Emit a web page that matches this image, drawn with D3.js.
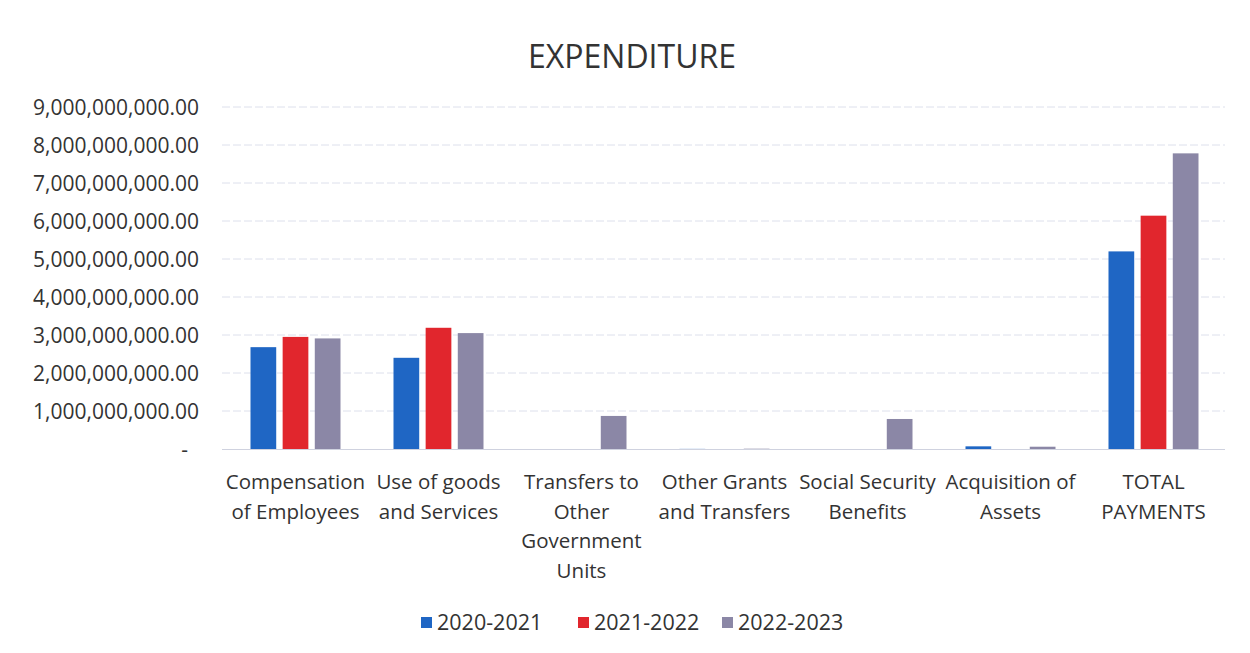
<!DOCTYPE html>
<html>
  <head>
    <style type="text/css">
      body { margin:0; background:#fff; }
      * { font-family:"Open Sans","Noto Sans",Arial,sans-serif; }
      .grid line { stroke:#dde0ec; stroke-width:1px; stroke-dasharray:8,3; }
      .tick text { fill:#333; }
    </style>
  </head>
  <body>
    <div id="chart"></div>
    <script src="https://d3js.org/d3.v7.min.js"></script>
    <script type="text/javascript">

    var categories = [
      ["Compensation", "of Employees"],
      ["Use of goods", "and Services"],
      ["Transfers to", "Other", "Government", "Units"],
      ["Other Grants", "and Transfers"],
      ["Social Security", "Benefits"],
      ["Acquisition of", "Assets"],
      ["TOTAL", "PAYMENTS"]
    ];
    var seriesNames = ["2020-2021", "2021-2022", "2022-2023"];
    var v2021 = [2680000000, 2400000000, 0, 3000000, 0, 70000000, 5200000000];
    var v2022 = [2950000000, 3190000000, 0, 0, 0, 0, 6140000000];
    var v2023 = [2910000000, 3050000000, 870000000, 8000000, 790000000, 60000000, 7780000000];
    var colors = ["#1f66c4", "#e1262d", "#8b87a6"];
    var yTicks = [0, 1e9, 2e9, 3e9, 4e9, 5e9, 6e9, 7e9, 8e9, 9e9];

    (function() {
      var width = 1250, height = 653;
      var left = 224, right = 1225, top = 107, bottom = 449;

      var svg = d3.select('#chart').append('svg')
                  .attr('width', width)
                  .attr('height', height);

      svg.append('text')
         .attr('x', 632).attr('y', 68)
         .attr('text-anchor', 'middle')
         .style('font-size', '32px')
         .style('fill', '#333')
         .text('EXPENDITURE');

      var y = d3.scaleLinear().domain([0, 9e9]).range([bottom, top]);
      var x = d3.scaleBand().domain(d3.range(categories.length)).range([left, right]);
      var x1 = d3.scaleBand().domain(d3.range(seriesNames.length))
                 .range([0, 90]).paddingInner(0.2);

      var fmt = d3.format(',.2f');

      // gridlines
      svg.append('g').attr('class', 'grid')
         .selectAll('line').data(yTicks.slice(1))
         .enter().append('line')
         .attr('x1', left - 2).attr('x2', right)
         .attr('y1', function (d) { return y(d); })
         .attr('y2', function (d) { return y(d); });

      svg.append('line')
         .attr('x1', left - 2).attr('x2', right)
         .attr('y1', bottom + 0.5).attr('y2', bottom + 0.5)
         .style('stroke', '#cfd2df');

      // y axis labels
      var yAxis = d3.axisLeft(y).tickValues(yTicks).tickSize(0).tickPadding(0)
                    .tickFormat(function (d) { return d === 0 ? '-' : fmt(d); });
      var ga = svg.append('g').attr('transform', 'translate(199,0)').call(yAxis);
      ga.select('.domain').remove();
      ga.selectAll('text').style('font-size', '21px').attr('dy', '0.35em');
      ga.selectAll('.tick').filter(function (d) { return d === 0; })
        .select('text').attr('dx', '-11');

      var data = [v2021, v2022, v2023];
      var groups = svg.append('g').selectAll('g')
          .data(categories.map(function (c, i) { return i; }))
          .enter().append('g')
          .attr('transform', function (i) { return 'translate(' + (x(i) + x.bandwidth() / 2 - 45) + ',0)'; });

      groups.selectAll('rect')
          .data(function (i) { return data.map(function (s, k) { return {k: k, v: s[i]}; }); })
          .enter().append('rect')
          .attr('x', function (d) { return x1(d.k); })
          .attr('width', x1.bandwidth())
          .attr('y', function (d) { return y(d.v); })
          .attr('height', function (d) { return bottom - y(d.v); })
          .style('fill', function (d) { return colors[d.k]; });

      // category labels
      var labels = svg.append('g').selectAll('text')
          .data(categories)
          .enter().append('text')
          .attr('text-anchor', 'middle')
          .attr('x', function (d, i) { return x(i) + x.bandwidth() / 2; })
          .attr('y', 489)
          .style('font-size', '20.5px')
          .style('fill', '#333');
      labels.selectAll('tspan')
          .data(function (d) { return d; })
          .enter().append('tspan')
          .attr('x', function () { return d3.select(this.parentNode).attr('x'); })
          .attr('dy', function (d, i) { return i === 0 ? 0 : 29.5; })
          .text(function (d) { return d; });

      // legend
      var legendX = [421, 578, 722];
      var lg = svg.append('g').selectAll('g')
          .data(seriesNames)
          .enter().append('g')
          .attr('transform', function (d, i) { return 'translate(' + legendX[i] + ',617)'; });
      lg.append('rect').attr('width', 11).attr('height', 11)
        .style('fill', function (d, i) { return colors[i]; });
      lg.append('text').attr('x', 16).attr('y', 13)
        .style('font-size', '21.5px').style('fill', '#333')
        .text(function (d) { return d; });
    })();
    </script>
  </body>
</html>
